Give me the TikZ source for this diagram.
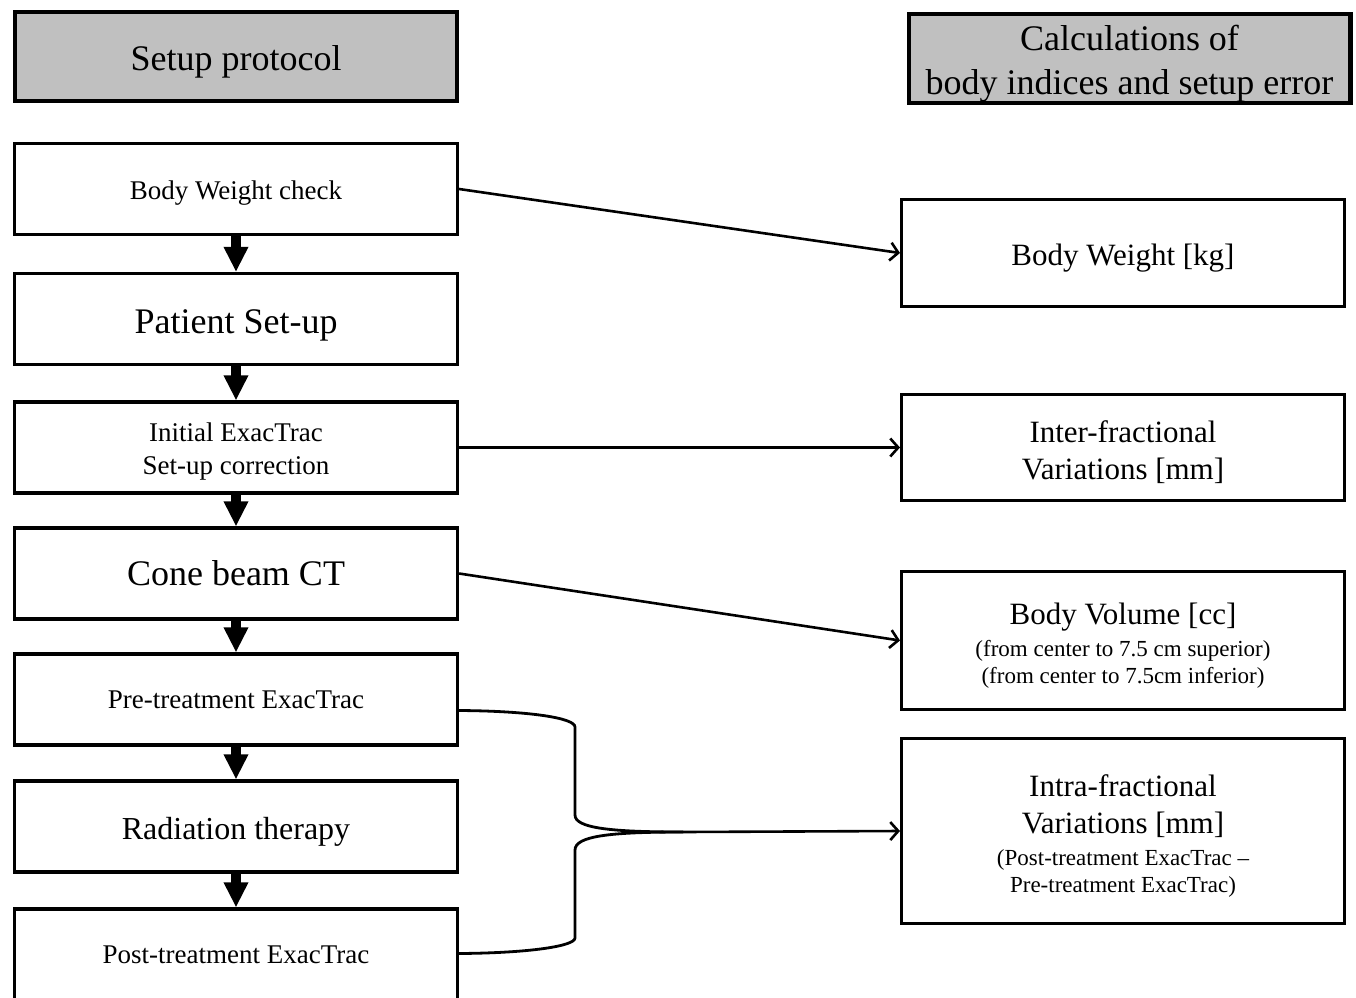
\documentclass[tikz,border=0pt]{standalone}
\usepackage{fontspec}
\setmainfont{Liberation Serif}
\usetikzlibrary{arrows.meta}
\definecolor{hdrgray}{HTML}{C0C0C0}
\newcommand{\subtxt}{\fontsize{11.5}{13.5}\selectfont}
\newcommand{\bigtxt}{\fontsize{18}{22}\selectfont}
\newcommand{\lift}{\rule{0pt}{1em}}
\tikzset{
  header/.style={draw, line width=2.2pt, fill=hdrgray, minimum width=220.8pt, minimum height=44.3pt, inner ysep=0pt, align=center, font=\bigtxt},
  stepbox/.style={draw, line width=1.6pt, minimum width=221.5pt, minimum height=45.5pt, align=center, font=\fontsize{13.5}{16.5}\selectfont},
  resbox/.style={draw, line width=1.5pt, minimum width=221.5pt, align=center, font=\fontsize{15.5}{18.5}\selectfont},
  flow/.style={line width=5pt, -{Triangle[width=11.5pt,length=12.5pt]}},
  link/.style={line width=1.3pt, -{Straight Barb[length=4pt,width=9pt]}},
  brace/.style={line width=1.4pt},
}
\begin{document}
\begin{tikzpicture}[x=0.5pt, y=-0.5pt]
    \useasboundingbox (0,0) rectangle (1356,997);
    % headers
    \node[header] (hleft) at (236,56.5) {\lift Setup protocol};
    \node[header] (hright) at (1129.5,58.5) {\lift Calculations of\\body indices and setup error};
    % setup steps
    \node[stepbox] (weigh) at (236,189) {\lift Body Weight check};
    \node[stepbox, font=\bigtxt] (setup) at (236,319) {\lift Patient Set-up};
    \node[stepbox] (init) at (236,447.5) {\lift Initial ExacTrac\\Set-up correction};
    \node[stepbox, font=\bigtxt] (cbct) at (236,573.5) {Cone beam CT};
    \node[stepbox] (pre) at (236,699.5) {Pre-treatment ExacTrac};
    \node[stepbox, font=\fontsize{16}{19}\selectfont] (rt) at (236,826.5) {\lift Radiation therapy};
    \node[stepbox] (post) at (236,954.5) {Post-treatment ExacTrac};
    % results
    \node[resbox, minimum height=53.5pt] (bwkg) at (1123,253) {\lift Body Weight [kg]};
    \node[resbox, minimum height=53pt] (inter) at (1123,447.5) {\lift Inter-fractional\\Variations [mm]};
    \node[resbox, minimum height=69pt] (vol) at (1123,640.5) {\lift Body Volume [cc]\\[-2.5pt]
        {\subtxt (from center to 7.5 cm superior)}\\[-5pt]
        {\subtxt (from center to 7.5cm inferior)}};
    \node[resbox, minimum height=92.5pt] (intra) at (1123,831) {\lift Intra-fractional\\Variations [mm]\\[-2.5pt]
        {\subtxt (Post-treatment ExacTrac --}\\[-5pt]
        {\subtxt Pre-treatment ExacTrac)}};
    % flow
    \draw[flow] (weigh) -- (setup);
    \draw[flow] (setup) -- (init);
    \draw[flow] (init) -- (cbct);
    \draw[flow] (cbct) -- (pre);
    \draw[flow] (pre) -- (rt);
    \draw[flow] (rt) -- (post);
    % to calculations
    \draw[link] (weigh.east) -- (bwkg.west);
    \draw[link] (init.east) -- (inter.west);
    \draw[link] (cbct.east) -- (vol.west);
    \coordinate (join) at (683,832);
    \draw[brace] ([yshift=-5.5pt]pre.east) .. controls (530,711) and (575,718) .. (575,727)
        -- (575,815) .. controls (575,828) and (610,832) .. (join);
    \draw[brace] ([yshift=0.5pt]post.east) .. controls (530,953) and (575,946) .. (575,938)
        -- (575,850) .. controls (575,836) and (610,832) .. (join);
    \draw[link] (join) -- (intra.west);
\end{tikzpicture}
\end{document}
